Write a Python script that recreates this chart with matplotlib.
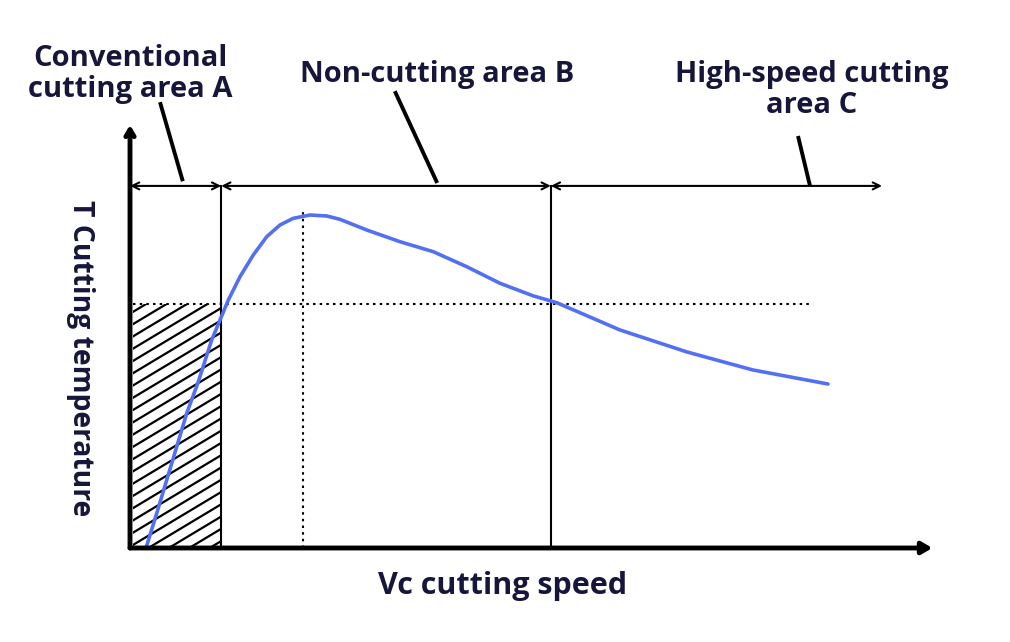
import numpy as np
import matplotlib.pyplot as plt
from matplotlib.patches import Rectangle

# cutting speed (x) vs cutting temperature (y), arbitrary units
speed = [2.0, 3.34, 4.59, 5.84, 7.09, 8.54, 10.21, 11.25, 12.29, 13.75,
         15.41, 17.09, 18.75, 20.41, 22.5, 24.59, 26.25, 29.59, 33.75,
         37.91, 42.09, 46.25, 50.41, 53.34, 61.25, 69.63, 77.88, 87.25]
temp = [0.0, 8.2, 16.08, 23.95, 31.84, 39.31, 49.17, 53.9, 58.63, 64.14,
        69.27, 73.59, 76.36, 77.94, 78.72, 78.49, 77.7, 75.18, 72.41,
        70.05, 66.5, 62.58, 59.6, 57.99, 51.54, 46.34, 42.08, 38.77]

# region limits on the speed axis
zone_edges = [0.0, 11.4, 52.6, 94.0]
zone_labels = ['Conventional\ncutting area A', 'Non-cutting area B',
               'High-speed cutting\narea C']
peak_speed = 21.6
ref_temp = 57.7
ref_end = 85.3
range_y = 85.6

text_color = '#16163a'
plt.rcParams['font.family'] = ['Open Sans', 'DejaVu Sans']

fig = plt.figure(figsize=(10.1, 6.42), dpi=100)
# axes box: pixel 130..930 in x, 125..548 in y
ax = fig.add_axes([130 / 1010, (642 - 548) / 642, 800 / 1010, 423 / 642])
ax.set_xlim(0, 100)
ax.set_ylim(0, 100)
ax.axis('off')

# main axes with arrows
ax.annotate('', xy=(100.3, 0), xytext=(0, 0),
            arrowprops=dict(arrowstyle='-|>,head_length=0.6,head_width=0.35',
                            lw=3.5, color='black', shrinkA=0, shrinkB=0),
            annotation_clip=False)
ax.annotate('', xy=(0, 100), xytext=(0, 0),
            arrowprops=dict(arrowstyle='->,head_length=0.5,head_width=0.3',
                            lw=3.5, color='black', shrinkA=0, shrinkB=0),
            annotation_clip=False)

# hatched zone A below reference temperature (shallow diagonal lines)
clip = Rectangle((0.4, 0), zone_edges[1] - 0.4, ref_temp,
                 transform=ax.transData, facecolor='none', edgecolor='none')
ax.add_patch(clip)
slope = 1.135
for c in np.arange(-20, ref_temp + 1, 2.9):
    xs = np.array([0.0, zone_edges[1] + 1])
    ln, = ax.plot(xs, c + slope * xs, color='black', lw=1.6)
    ln.set_clip_path(clip)

# zone boundaries
for xb in zone_edges[1:3]:
    ax.plot([xb, xb], [0, range_y], color='black', lw=1.5)

# dotted reference lines
ax.plot([0.4, ref_end], [ref_temp, ref_temp], color='black', lw=1.5,
        linestyle=(0, (1.2, 2.0)))
ax.plot([peak_speed, peak_speed], [0, 79.5], color='black', lw=1.5,
        linestyle=(0, (1.2, 2.0)))

# double-headed range arrows
for x0, x1 in zip(zone_edges[:-1], zone_edges[1:]):
    ax.annotate('', xy=(x1, range_y), xytext=(x0, range_y),
                arrowprops=dict(arrowstyle='<->,head_length=0.5,head_width=0.25',
                                lw=1.5, color='black', shrinkA=0, shrinkB=0),
                annotation_clip=False)

# curve
ax.plot(speed, temp, color='#5470f2', lw=2.6, solid_capstyle='round',
        solid_joinstyle='round')

# leader lines from labels to range arrows
leaders = [((3.75, 105.4), (6.6, 86.7)), ((33.1, 108.0), (38.4, 86.3)),
           ((83.5, 97.4), (85.0, 85.6))]
for (xa, ya), (xb2, yb2) in leaders:
    ax.plot([xa, xb2], [ya, yb2], color='black', lw=2.8, clip_on=False,
            solid_capstyle='butt')

# labels
ax.text(0.0, 112.0, zone_labels[0], ha='center', va='center', fontsize=21,
        fontweight='bold', color=text_color, linespacing=1.1)
ax.text(38.4, 112.0, zone_labels[1], ha='center', va='center', fontsize=21,
        fontweight='bold', color=text_color)
ax.text(85.2, 108.2, zone_labels[2], ha='center', va='center', fontsize=21,
        fontweight='bold', color=text_color, linespacing=1.1)
ax.text(46.6, -9.0, 'Vc cutting speed', ha='center', va='center',
        fontsize=22, fontweight='bold', color=text_color)
ax.text(-6.2, 45.0, 'T Cutting temperature', ha='center', va='center',
        rotation=-90, fontsize=20.3, fontweight='bold', color=text_color)

fig.savefig('out.png', dpi=100)
